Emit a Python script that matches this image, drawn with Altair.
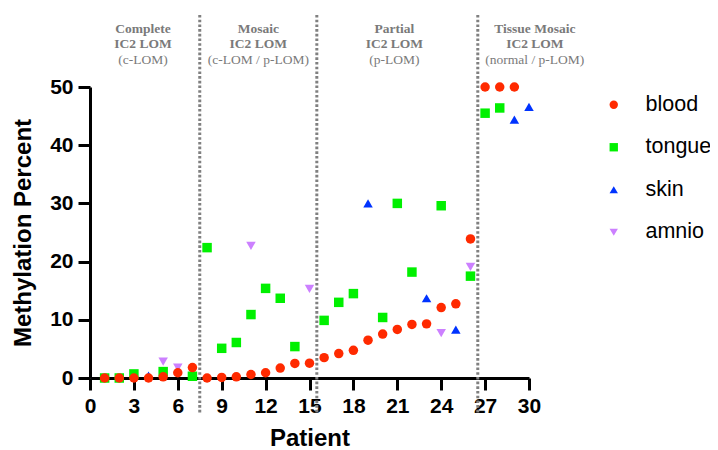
import altair as alt
import pandas as pd

blood_patient = list(range(1, 30))
blood_value = [0, 0, 0, 0, 0.2, 0.9, 1.8, 0, 0.1, 0.2, 0.6, 0.9, 1.7, 2.5, 2.55,
               3.5, 4.2, 4.75, 6.5, 7.55, 8.35, 9.2, 9.3, 12.1, 12.75, 23.9, 50, 50, 50]
tongue_patient = [1, 2, 3, 5, 7, 8, 9, 10, 11, 12, 13, 14, 16, 17, 18, 20, 21, 22, 24, 26, 27, 28]
tongue_value = [0, 0, 0.7, 1.1, 0.3, 22.4, 5.1, 6.1, 10.9, 15.4, 13.7, 5.4, 9.9, 13.0, 14.5,
                10.4, 30.0, 18.2, 29.6, 17.5, 45.5, 46.4]
skin_patient = [4, 19, 23, 25, 29, 30]
skin_value = [0.4, 30.0, 13.7, 8.3, 44.4, 46.6]
amnio_patient = [5, 6, 11, 15, 24, 26]
amnio_value = [2.8, 1.8, 22.7, 15.3, 7.7, 19.1]

tissues = ["blood", "tongue", "skin", "amnio"]
colors = ["#FF2A00", "#00F000", "#0033FF", "#CC80FF"]
shapes = ["circle", "square", "triangle-up", "triangle-down"]

boundaries = [7.5, 15.5, 26.5]
group_x = [3.62, 11.5, 20.8, 30.4]
group_line1 = ["Complete", "Mosaic", "Partial", "Tissue Mosaic"]
group_line2 = ["IC2 LOM", "IC2 LOM", "IC2 LOM", "IC2 LOM"]
group_line3 = ["(c-LOM)", "(c-LOM / p-LOM)", "(p-LOM)", "(normal / p-LOM)"]

rows = []
for name, ps, vs in [("amnio", amnio_patient, amnio_value),
                     ("skin", skin_patient, skin_value),
                     ("tongue", tongue_patient, tongue_value),
                     ("blood", blood_patient, blood_value)]:
    for p, v in zip(ps, vs):
        rows.append({"Patient": p, "Value": v, "Tissue": name})
df = pd.DataFrame(rows)

W, H = 439, 291

xscale = alt.Scale(domain=[0, 30], nice=False, zero=False)
yscale = alt.Scale(domain=[0, 50], nice=False)

points = alt.Chart(df).mark_point(filled=True, opacity=1, size=90).encode(
    x=alt.X("Patient:Q", scale=xscale,
            axis=alt.Axis(values=list(range(0, 31, 3)), title="Patient", grid=False,
                          labelFontSize=21, labelFontWeight="bold", labelFont="Liberation Sans",
                          labelColor="black", labelPadding=5, labelFlush=False,
                          titleFontSize=24, titleFont="Liberation Sans", titleFontWeight="bold",
                          titleColor="black", titlePadding=10,
                          tickSize=12, tickWidth=3, tickColor="black",
                          domainWidth=3, domainColor="black")),
    y=alt.Y("Value:Q", scale=yscale,
            axis=alt.Axis(values=[0, 10, 20, 30, 40, 50], title="Methylation Percent", grid=False,
                          labelFontSize=21, labelFontWeight="bold", labelFont="Liberation Sans",
                          labelColor="black", labelPadding=5, labelFlush=False,
                          titleFontSize=24, titleFont="Liberation Sans", titleFontWeight="bold",
                          titleColor="black", titlePadding=14,
                          tickSize=12, tickWidth=3, tickColor="black",
                          domainWidth=3, domainColor="black")),
    color=alt.Color("Tissue:N", scale=alt.Scale(domain=tissues, range=colors),
                    legend=alt.Legend(title=None, orient="none", legendX=513, legendY=7,
                                      labelFontSize=21.5, labelFont="Liberation Sans",
                                      labelColor="black", symbolSize=70, labelOffset=21,
                                      rowPadding=19.5, padding=0, symbolStrokeWidth=0)),
    shape=alt.Shape("Tissue:N", scale=alt.Scale(domain=tissues, range=shapes)),
)

bdf = pd.DataFrame({"b": boundaries})
rules = alt.Chart(bdf).mark_rule(color="#808080", strokeWidth=3, strokeDash=[2.6, 2.1]).encode(
    x=alt.X("b:Q", scale=xscale),
    y=alt.value(-72),
    y2=alt.value(326),
)

gdf = pd.DataFrame({"gx": group_x, "l1": group_line1, "l2": group_line2, "l3": group_line3})
base_text = alt.Chart(gdf)
t1 = base_text.mark_text(font="Liberation Serif", fontSize=13.5, fontWeight="bold",
                         color="#7a7a7a", baseline="middle").encode(
    x=alt.X("gx:Q", scale=xscale), y=alt.value(-58), text="l1:N")
t2 = base_text.mark_text(font="Liberation Serif", fontSize=13.5, fontWeight="bold",
                         color="#7a7a7a", baseline="middle").encode(
    x=alt.X("gx:Q", scale=xscale), y=alt.value(-43), text="l2:N")
t3 = base_text.mark_text(font="Liberation Serif", fontSize=13.5,
                         color="#7a7a7a", baseline="middle").encode(
    x=alt.X("gx:Q", scale=xscale), y=alt.value(-27), text="l3:N")

chart = alt.layer(rules, points, t1, t2, t3).properties(
    width=W, height=H,
    autosize=alt.AutoSizeParams(type="none"),
    padding={"left": 82, "top": 79, "right": 181, "bottom": 72},
).configure_view(stroke=None)

chart.save("out.html", embed_options={"renderer": "svg", "actions": False})
